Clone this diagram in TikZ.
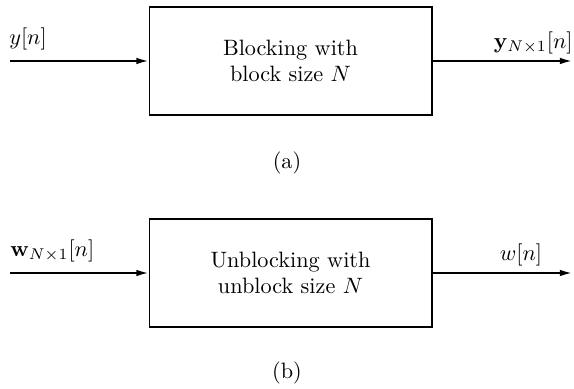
\documentclass[tikz,border=0pt]{standalone}
\usepackage{amsmath}
\usetikzlibrary{arrows.meta}
\begin{document}
\begin{tikzpicture}[
		x=0.45pt, y=-0.45pt, % one unit per pixel, y running downwards
		block/.style={draw, line width=0.8pt, minimum width=127pt, minimum height=48.6pt, align=center},
		sig/.style={line width=0.8pt, -{Latex[length=5.5pt,width=3pt]}},
		lbl/.style={inner sep=0pt}
		]
		\useasboundingbox (0,0) rectangle (574,389);
		% (a) Blocking
		\node[block] (blk) at (290.5,61) {Blocking with\\block size $N$};
		\coordinate (yin) at (10,61);
		\coordinate (yout) at (572,61);
		\node[lbl] (ylab) at (28,39) {$y[n]$};
		\node[lbl, anchor=east] (youtlab) at (573,43) {$\mathbf{y}_{N\times1}[n]$};
		\node (capa) at (287,163) {(a)};
		% (b) Unblocking
		\node[block] (unblk) at (290.5,273) {Unblocking with\\unblock size $N$};
		\coordinate (win) at (10,273);
		\coordinate (wout) at (572,273);
		\node[lbl, anchor=west] (winlab) at (10,251) {$\mathbf{w}_{N\times1}[n]$};
		\node[lbl] (woutlab) at (521,255) {$w[n]$};
		\node (capb) at (287,373) {(b)};

		% Arrows
		\draw[sig] (yin) -- (blk.west);
		\draw[sig] (blk.east) -- (yout);
		\draw[sig] (win) -- (unblk.west);
		\draw[sig] (unblk.east) -- (wout);
	\end{tikzpicture}
\end{document}
